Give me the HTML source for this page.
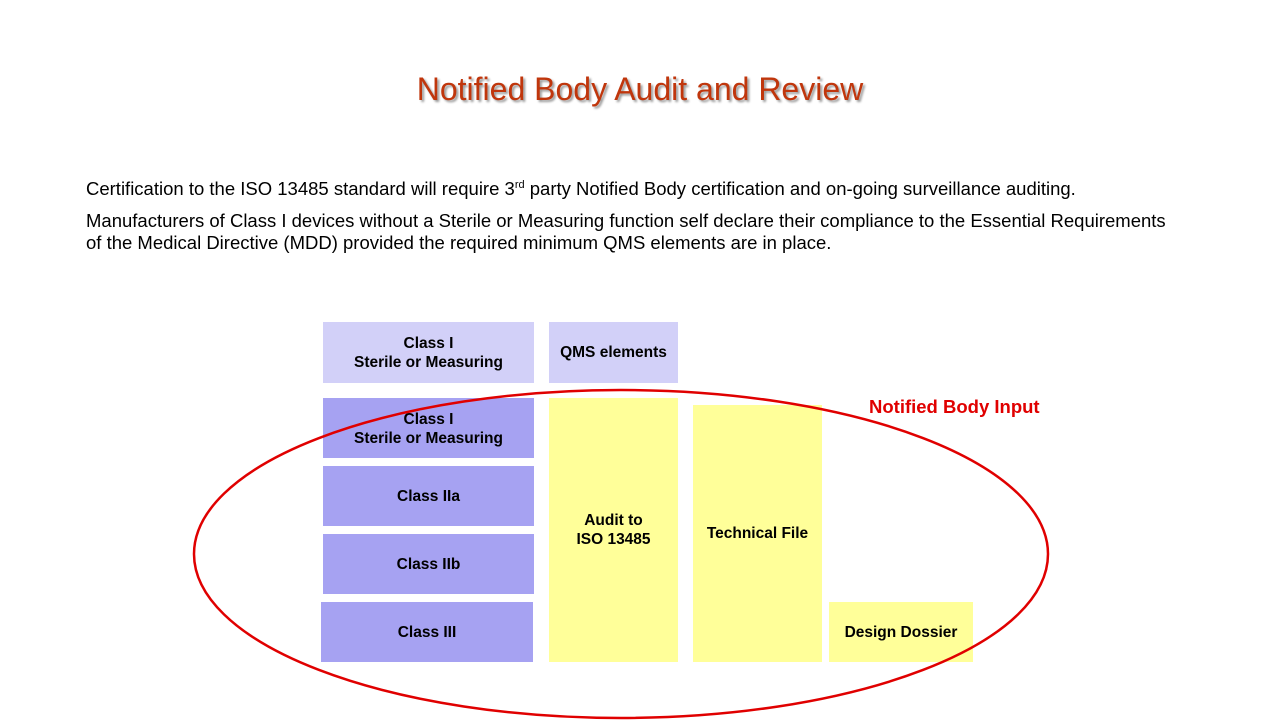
<!DOCTYPE html>
<html><head><meta charset="utf-8"><style>
body{margin:0;width:1280px;height:720px;background:#fff;position:relative;overflow:hidden;font-family:"Liberation Sans",sans-serif}
.t{position:absolute;left:0;width:1280px;top:71px;text-align:center;font-size:32px;color:#C0360C;text-shadow:2px 2px 2px #999}
.p{position:absolute;left:86px;font-size:18.5px;color:#000;line-height:22px;letter-spacing:0}
.b{position:absolute;display:flex;align-items:center;justify-content:center;text-align:center;font-weight:bold;font-size:15.5px;line-height:19px;color:#000}
.l{background:#D2D0F8}.d{background:#A6A2F2}.y{background:#FFFF99}
</style></head><body>
<div class="t">Notified Body Audit and Review</div>
<div class="p" style="top:174px">Certification to the ISO 13485 standard will require 3<sup style="font-size:11px">rd</sup> party Notified Body certification and on-going surveillance auditing.</div>
<div class="p" style="top:210px">Manufacturers of Class I devices without a Sterile or Measuring function self declare their compliance to the Essential Requirements<br>of the Medical Directive (MDD) provided the required minimum QMS elements are in place.</div>
<div class="b l" style="left:323px;top:322px;width:211px;height:61px">Class I<br>Sterile or Measuring</div>
<div class="b l" style="left:549px;top:322px;width:129px;height:61px">QMS elements</div>
<div class="b d" style="left:323px;top:398px;width:211px;height:60px;align-items:flex-start;padding-top:12px;box-sizing:border-box">Class I<br>Sterile or Measuring</div>
<div class="b d" style="left:323px;top:466px;width:211px;height:60px">Class IIa</div>
<div class="b d" style="left:323px;top:534px;width:211px;height:60px">Class IIb</div>
<div class="b d" style="left:321px;top:602px;width:212px;height:60px">Class III</div>
<div class="b y" style="left:549px;top:398px;width:129px;height:264px">Audit to<br>ISO 13485</div>
<div class="b y" style="left:693px;top:405px;width:129px;height:257px">Technical File</div>
<div class="b y" style="left:829px;top:602px;width:144px;height:60px">Design Dossier</div>
<div style="position:absolute;left:869px;top:396px;font-weight:bold;font-size:18.5px;color:#E00000">Notified Body Input</div>
<svg style="position:absolute;left:0;top:0" width="1280" height="720"><ellipse cx="621" cy="554" rx="427" ry="164" fill="none" stroke="#E00000" stroke-width="2.5"/></svg>
</body></html>
